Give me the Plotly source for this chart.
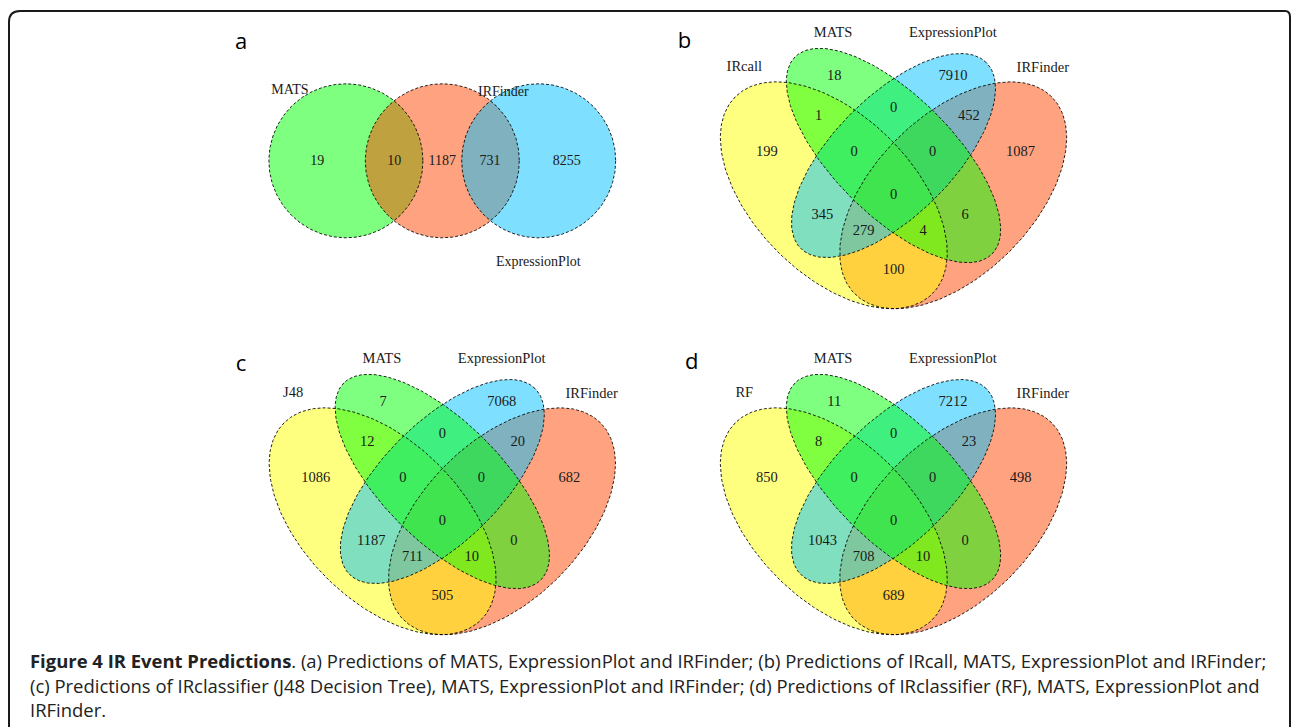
import numpy as np
import plotly.graph_objects as go

# ---------------- data ----------------
# Panel a: three-set Venn (regions left to right)
a_sets = ["MATS", "IRFinder", "ExpressionPlot"]
a_regions = ["MATS only", "MATS&IRFinder", "IRFinder only", "IRFinder&ExpressionPlot", "ExpressionPlot only"]
a_counts = [19, 10, 1187, 731, 8255]

# Four-set panels: sets A (outer left), B (inner left), C (inner right), D (outer right)
quad_regions = ["A", "B", "C", "D", "AB", "BC", "CD", "ABC", "BCD", "ABCD", "AC", "BD", "ACD", "ABD", "AD"]
b_sets = ["IRcall", "MATS", "ExpressionPlot", "IRFinder"]
b_counts = [199, 18, 7910, 1087, 1, 0, 452, 0, 0, 0, 345, 6, 279, 4, 100]
c_sets = ["J48", "MATS", "ExpressionPlot", "IRFinder"]
c_counts = [1086, 7, 7068, 682, 12, 0, 20, 0, 0, 0, 1187, 0, 711, 10, 505]
d_sets = ["RF", "MATS", "ExpressionPlot", "IRFinder"]
d_counts = [850, 11, 7212, 498, 8, 0, 23, 0, 0, 0, 1043, 0, 708, 10, 689]

caption_bold = "Figure 4 IR Event Predictions"
caption_lines = [
    ". (a) Predictions of MATS, ExpressionPlot and IRFinder; (b) Predictions of IRcall, MATS, ExpressionPlot and IRFinder;",
    "(c) Predictions of IRclassifier (J48 Decision Tree), MATS, ExpressionPlot and IRFinder; (d) Predictions of IRclassifier (RF), MATS, ExpressionPlot and",
    "IRFinder.",
]

# ---------------- layout constants ----------------
W, H = 1292, 727
U = 398.0  # pixels per Venn unit
SERIF = "Liberation Serif, Times New Roman, serif"
SANS = "Open Sans, sans-serif"
TXT = "#1a1a1a"

# ellipse geometry (VennDiagram quad layout): x, y, a, b, rotation
quad_geom = {
    "A": (0.35, 0.47, 0.35, 0.20, 135),
    "B": (0.50, 0.57, 0.35, 0.15, 135),
    "C": (0.50, 0.57, 0.33, 0.15, 45),
    "D": (0.65, 0.47, 0.35, 0.20, 45),
}
quad_fill = {
    "A": "rgba(255,255,0,0.5)",
    "B": "rgba(0,255,0,0.5)",
    "C": "rgba(0,191,255,0.5)",
    "D": "rgba(255,69,0,0.5)",
}
quad_draw_order = ["D", "A", "C", "B"]
# region label offsets (px, y down) from panel centre
quad_label_off = {
    "A": (-126.6, -43), "B": (-59.3, -118.6), "C": (59.4, -118.6), "D": (127.1, -43),
    "AB": (-75, -78.6), "BC": (0, -87), "CD": (75.4, -78.6),
    "ABC": (-39.4, -43), "BCD": (39.1, -43), "ABCD": (0, 0.4),
    "AC": (-71.1, 19.7), "BD": (71.6, 19.7), "ACD": (-29.8, 35.7), "ABD": (29.5, 35.7),
    "AD": (0, 75.4),
}
quad_set_label_off = [(-149.2, -127.6), (-60.4, -162), (59.4, -162), (149.3, -127)]

panels_quad = [
    # centre x, centre y (unit point 0.5,0.47), sets, counts
    (893.5, 195.3, b_sets, b_counts),
    (442.3, 521.3, c_sets, c_counts),
    (893.5, 521.3, d_sets, d_counts),
]

# panel a geometry
a_cx, a_cy, a_r, a_sep = 442.3, 160.8, 77.0, 96.4
a_circle_dx = {"MATS": -a_sep, "IRFinder": 0.0, "ExpressionPlot": a_sep}
a_fill = {"MATS": "rgba(0,255,0,0.5)", "IRFinder": "rgba(255,69,0,0.5)", "ExpressionPlot": "rgba(0,191,255,0.5)"}
a_draw_order = ["MATS", "IRFinder", "ExpressionPlot"]
a_label_dx = [-125.0, -48.0, 0.0, 47.7, 124.4]
a_label_dy = 0.9
a_set_label_off = {"MATS": (-152.3, -70.1), "IRFinder": (61.0, -68.1), "ExpressionPlot": (96.0, 102.0)}

panel_letters = [("a", 241, 43), ("b", 684.5, 42), ("c", 241, 365), ("d", 691.7, 363)]

t = np.linspace(0, 2 * np.pi, 241)


def ellipse_px(cx, cy, geom):
    ux, uy, a, b, rot = geom
    th = np.deg2rad(rot)
    xe = a * np.cos(t)
    ye = b * np.sin(t)
    X = ux + xe * np.cos(th) - ye * np.sin(th)
    Y = uy + xe * np.sin(th) + ye * np.cos(th)
    return cx + (X - 0.5) * U, cy - (Y - 0.47) * U


fig = go.Figure()
DASH = "3px,2px"
LINE_COL = "rgba(0,0,0,0.85)"

# ----- panel a -----
outlines = []
for s in a_draw_order:
    xs = a_cx + a_circle_dx[s] + a_r * np.cos(t)
    ys = a_cy + a_r * np.sin(t)
    fig.add_trace(go.Scatter(x=xs, y=ys, mode="lines", fill="toself", fillcolor=a_fill[s],
                             line=dict(width=0, color="rgba(0,0,0,0)"), hoverinfo="skip", showlegend=False))
    outlines.append((xs, ys))

# ----- quad panels -----
for cx, cy, sets, counts in panels_quad:
    for k in quad_draw_order:
        xs, ys = ellipse_px(cx, cy, quad_geom[k])
        fig.add_trace(go.Scatter(x=xs, y=ys, mode="lines", fill="toself", fillcolor=quad_fill[k],
                                 line=dict(width=0, color="rgba(0,0,0,0)"), hoverinfo="skip", showlegend=False))
        outlines.append((xs, ys))

for xs, ys in outlines:
    fig.add_trace(go.Scatter(x=xs, y=ys, mode="lines", line=dict(width=1, color=LINE_COL, dash=DASH),
                             hoverinfo="skip", showlegend=False))

# ----- count labels -----
fig.add_trace(go.Scatter(
    x=[a_cx + dx for dx in a_label_dx], y=[a_cy + a_label_dy] * len(a_counts),
    text=[str(v) for v in a_counts], mode="text",
    textfont=dict(family=SERIF, size=14, color=TXT), hoverinfo="skip", showlegend=False))
fig.add_trace(go.Scatter(
    x=[a_cx + a_set_label_off[s][0] for s in a_sets], y=[a_cy + a_set_label_off[s][1] for s in a_sets],
    text=a_sets, mode="text",
    textfont=dict(family=SERIF, size=14, color=TXT), hoverinfo="skip", showlegend=False))

for cx, cy, sets, counts in panels_quad:
    fig.add_trace(go.Scatter(
        x=[cx + quad_label_off[r][0] for r in quad_regions],
        y=[cy + quad_label_off[r][1] for r in quad_regions],
        text=[str(v) for v in counts], mode="text",
        textfont=dict(family=SERIF, size=14.5, color=TXT), hoverinfo="skip", showlegend=False))
    fig.add_trace(go.Scatter(
        x=[cx + o[0] for o in quad_set_label_off], y=[cy + o[1] for o in quad_set_label_off],
        text=sets, mode="text",
        textfont=dict(family=SERIF, size=14.5, color=TXT), hoverinfo="skip", showlegend=False))

# ----- panel letters -----
fig.add_trace(go.Scatter(
    x=[p[1] for p in panel_letters], y=[p[2] for p in panel_letters], text=[p[0] for p in panel_letters],
    mode="text", textfont=dict(family=SANS, size=22, color="#000"), hoverinfo="skip", showlegend=False))

# ----- caption -----
CAP_SIZE = 18.45
CAP_COL = "#222"
annotations = [
    dict(x=28, y=660, xref="x", yref="y", xanchor="left", yanchor="middle", showarrow=False,
         text="<b>" + caption_bold + "</b>" + caption_lines[0],
         font=dict(family=SANS, size=CAP_SIZE, color=CAP_COL)),
    dict(x=28, y=685, xref="x", yref="y", xanchor="left", yanchor="middle", showarrow=False,
         text=caption_lines[1], font=dict(family=SANS, size=CAP_SIZE, color=CAP_COL)),
    dict(x=28, y=709.5, xref="x", yref="y", xanchor="left", yanchor="middle", showarrow=False,
         text=caption_lines[2], font=dict(family=SANS, size=CAP_SIZE, color=CAP_COL)),
]

border = dict(type="path", xref="x", yref="y",
              path="M 9,745 L 9,22 Q 9,11 20,11 L 1285,11 Q 1290,11 1290,17 L 1290,745",
              line=dict(color="#1a1a1a", width=2))

fig.update_layout(
    width=W, height=H, margin=dict(l=0, r=0, t=0, b=0),
    paper_bgcolor="white", plot_bgcolor="white",
    xaxis=dict(range=[0, W], visible=False, fixedrange=True),
    yaxis=dict(range=[H, 0], visible=False, fixedrange=True),
    annotations=annotations, shapes=[border], showlegend=False,
)
fig.write_html("out.html", config={"displayModeBar": False},
               post_script="document.body.style.margin='0px';document.body.style.overflow='hidden';")
